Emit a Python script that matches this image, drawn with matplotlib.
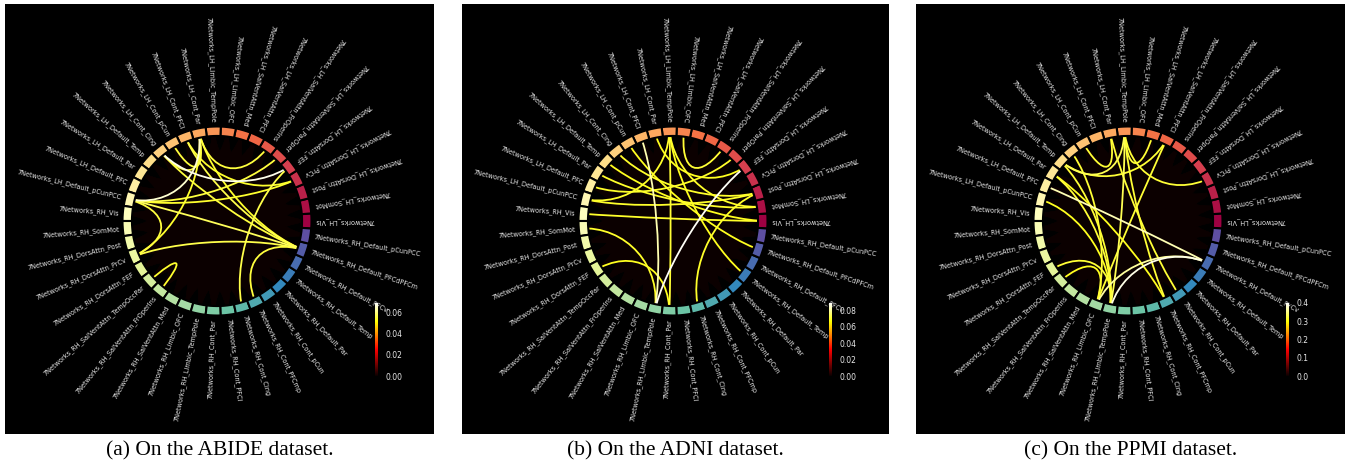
"""
Connectivity circles for ABIDE / ADNI / PPMI, three black panels side by side.
"""
import matplotlib
matplotlib.use('Agg')
import matplotlib.pyplot as plt
import numpy as np
from matplotlib.path import Path
from matplotlib.patches import PathPatch

# ── Node names (Schaefer 7-network regions) ─────────────────────
node_names = [
    '7Networks_LH_Vis', '7Networks_LH_SomMot', '7Networks_LH_DorsAttn_Post',
    '7Networks_LH_DorsAttn_PrCv', '7Networks_LH_DorsAttn_FEF',
    '7Networks_LH_SalVentAttn_ParOper', '7Networks_LH_SalVentAttn_FrOperIns',
    '7Networks_LH_SalVentAttn_PFCl', '7Networks_LH_SalVentAttn_Med',
    '7Networks_LH_Limbic_OFC', '7Networks_LH_Limbic_TempPole',
    '7Networks_LH_Cont_Par', '7Networks_LH_Cont_PFCl', '7Networks_LH_Cont_pCun',
    '7Networks_LH_Cont_Cing', '7Networks_LH_Default_Temp',
    '7Networks_LH_Default_Par', '7Networks_LH_Default_PFC',
    '7Networks_LH_Default_pCunPCC',
    '7Networks_RH_Vis', '7Networks_RH_SomMot', '7Networks_RH_DorsAttn_Post',
    '7Networks_RH_DorsAttn_PrCv', '7Networks_RH_DorsAttn_FEF',
    '7Networks_RH_SalVentAttn_TempOccPar', '7Networks_RH_SalVentAttn_FrOperIns',
    '7Networks_RH_SalVentAttn_Med', '7Networks_RH_Limbic_OFC',
    '7Networks_RH_Limbic_TempPole', '7Networks_RH_Cont_Par',
    '7Networks_RH_Cont_PFCl', '7Networks_RH_Cont_Cing', '7Networks_RH_Cont_PFCmp',
    '7Networks_RH_Cont_pCun', '7Networks_RH_Default_Par',
    '7Networks_RH_Default_Temp', '7Networks_RH_Default_PFCv',
    '7Networks_RH_Default_PFCdPFCm', '7Networks_RH_Default_pCunPCC',
]

# ── Strong connections per dataset (node i, node j, strength) ───
abide_src = [14, 18, 18, 22, 12, 14, 11, 11, 18, 18, 24, 22, 31, 32, 3, 18, 14, 13]
abide_dst = [4, 11, 37, 37, 37, 37, 37, 6, 5, 22, 25, 11, 4, 37, 12, 3, 11, 11]
abide_val = [0.068, 0.066, 0.058, 0.057, 0.057, 0.056, 0.055, 0.056, 0.056,
             0.056, 0.055, 0.055, 0.057, 0.056, 0.055, 0.055, 0.057, 0.056]
abide_vmax = 0.0695
abide_ticks = [0.00, 0.02, 0.04, 0.06]

adni_src = [4, 12, 18, 19, 16, 9, 10, 10, 20, 23, 31, 14, 15, 10, 17, 10, 11, 13]
adni_dst = [28, 28, 2, 0, 1, 6, 1, 29, 28, 29, 2, 2, 0, 35, 5, 18, 4, 37]
adni_val = [0.088, 0.082, 0.070, 0.070, 0.070, 0.071, 0.070, 0.071, 0.070,
            0.069, 0.070, 0.070, 0.069, 0.069, 0.070, 0.070, 0.069, 0.069]
adni_vmax = 0.089
adni_ticks = [0.00, 0.02, 0.04, 0.06, 0.08]

ppmi_src = [28, 17, 10, 10, 15, 16, 14, 10, 10, 10, 15, 18, 23, 24, 7, 11, 16, 27, 11]
ppmi_dst = [36, 36, 28, 32, 28, 28, 27, 15, 8, 3, 7, 28, 28, 27, 27, 33, 32, 36, 13]
ppmi_val = [0.39, 0.37, 0.33, 0.32, 0.32, 0.32, 0.32, 0.33, 0.32, 0.32,
            0.32, 0.31, 0.32, 0.31, 0.32, 0.32, 0.31, 0.36, 0.32]
ppmi_vmax = 0.40
ppmi_ticks = [0.0, 0.1, 0.2, 0.3, 0.4]

weak_val = 0.0   # every other pair is close to zero

captions = ['(a) On the ABIDE dataset.', '(b) On the ADNI dataset.',
            '(c) On the PPMI dataset.']

# ── Layout (pixels) ─────────────────────────────────────────────
W, H = 1352, 474
panel_x = [(5, 434), (462, 889), (916, 1345)]
panel_top, panel_bot = 4, 434
circle_cy = 221
px_per_unit = 9.45
rmax = 11.0
cbar_x = [375, 829, 1286]
cbar_top, cbar_bot = 303, 376

fig = plt.figure(figsize=(W / 100, H / 100), dpi=100, facecolor='white')

cmap = plt.get_cmap('hot')
n = len(node_names)
angles = np.linspace(0, 2 * np.pi, n, endpoint=False)
node_colors = plt.get_cmap('Spectral')(np.linspace(0, 1, n))

datasets = [
    (abide_src, abide_dst, abide_val, abide_vmax, abide_ticks, '%.2f'),
    (adni_src, adni_dst, adni_val, adni_vmax, adni_ticks, '%.2f'),
    (ppmi_src, ppmi_dst, ppmi_val, ppmi_vmax, ppmi_ticks, '%.1f'),
]


def chord(ax, i, j, color, lw):
    t0, t1 = angles[i], angles[j]
    verts = [(t0, 10), (t0, 5), (t1, 5), (t1, 10)]
    codes = [Path.MOVETO, Path.CURVE4, Path.CURVE4, Path.CURVE4]
    ax.add_patch(PathPatch(Path(verts, codes), fill=False,
                           edgecolor=color, linewidth=lw))


for k, (src, dst, val, vmax, ticks, fmt) in enumerate(datasets):
    x0, x1 = panel_x[k]

    # black panel
    bg = fig.add_axes([x0 / W, 1 - panel_bot / H, (x1 - x0) / W,
                       (panel_bot - panel_top) / H])
    bg.set_facecolor('black')
    bg.set_xticks([])
    bg.set_yticks([])
    for s in bg.spines.values():
        s.set_visible(False)

    # polar axes for the circle
    cx = (x0 + x1) / 2 - 2.5
    R = rmax * px_per_unit
    ax = fig.add_axes([(cx - R) / W, 1 - (circle_cy + R) / H, 2 * R / W, 2 * R / H],
                      polar=True)
    ax.set_ylim(0, rmax)
    ax.axis('off')

    norm = plt.Normalize(0, vmax)
    strong = {(min(a, b), max(a, b)) for a, b in zip(src, dst)}

    # weak background connections
    for i in range(n):
        for j in range(i + 1, n):
            if (i, j) not in strong:
                chord(ax, i, j, cmap(norm(weak_val)), 1.5)

    # strong connections, weakest first
    order = np.argsort(val)
    for o in order:
        chord(ax, src[o], dst[o], cmap(norm(val[o])), 1.3)

    # node ring
    ax.bar(angles, np.ones(n), width=2 * np.pi / n, bottom=9,
           color=node_colors, edgecolor='black', linewidth=1.5, align='center')

    # node labels
    for name, a in zip(node_names, angles):
        deg = np.degrees(a)
        if deg >= 270:
            ha = 'left'
        else:
            deg += 180
            ha = 'right'
        ax.text(a, 10.4, name, size=4.7, rotation=deg, rotation_mode='anchor',
                ha=ha, va='center', color='#e8e8e8')

    # colorbar
    cax = fig.add_axes([cbar_x[k] / W, 1 - cbar_bot / H, 3.2 / W,
                        (cbar_bot - cbar_top) / H])
    sm = plt.cm.ScalarMappable(cmap=cmap, norm=norm)
    cb = fig.colorbar(sm, cax=cax, ticks=ticks, format=fmt)
    cb.outline.set_visible(False)
    cax.tick_params(labelsize=5.5, labelcolor='#e8e8e8', color='black',
                    length=2, pad=3)

    fig.text((x0 + x1) / 2 / W, 1 - 451 / H, captions[k], ha='center',
             va='center', fontsize=15.5, family='Liberation Serif', color='black')

fig.savefig('out.png', dpi=100, facecolor='white')
plt.close()
